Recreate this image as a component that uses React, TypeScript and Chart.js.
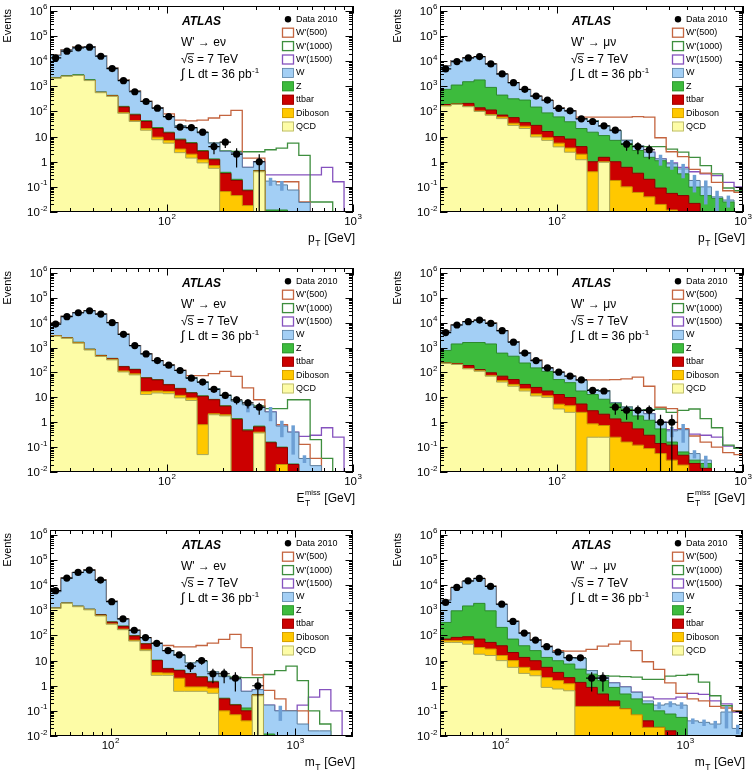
import React, { useEffect, useRef } from "react";
import { Chart, registerables } from "chart.js";

Chart.register(...registerables);

const N = null;

// ---------- bin edges ----------
const PT_EDGES = [23.5, 27.0, 31.1, 35.8, 41.1, 47.3, 54.4, 62.6, 72.0, 82.8, 95.3, 109.6, 126.1, 145.0, 166.8, 191.9, 220.7, 253.9, 292.1, 335.9, 386.4, 444.5, 511.3, 588.2, 676.6, 778.0, 895.0, 1029.5];
const MT_EDGES = [47.0, 54.0, 62.2, 71.5, 82.3, 94.6, 108.8, 125.2, 144.0, 165.7, 190.6, 219.3, 252.2, 290.0, 333.6, 383.8, 441.4, 507.8, 584.1, 671.8, 772.8, 889.0, 1022.6, 1176.3, 1353.2, 1556.0, 1790.0, 2059.0];

// ---------- e channel, pT ----------
const DATA_E_PT = [13600, 25100, 34100, 36300, 15800, 5100, 1690, 610, 250, 136, 63, 24, 23, 15, 4, 6, 2, 0, 1];
const W_E_PT = [17000, 28000, 36000, 38000, 16500, 5300, 1750, 640, 250, 140, 62, 27, 22, 14, 5.5, 2.6, 2.3, 0.6, 1.0, 0.17, 0.12, 0.075, 0.024];
const Z_E_PT = [2200, 2650, 2900, 1850, 600, 440, 160, 78, 43, 23, 15, 8, 5.8, 2.8, 1.3, 0.38, 0.2, 0.075, 0.45, 0.012, 0.012];
const TT_E_PT = [2110, 2510, 2720, 1720, 580, 420, 150, 73, 40, 21, 14, 7.4, 5.4, 2.6, 1.2, 0.34, 0.18, 0.07, 0.43];
const DB_E_PT = [2100, 2500, 2710, 1710, 570, 410, 90, 43, 21, 9.5, 7, 3.2, 2.0, 1.2, 0.7, 0.065, 0.045, 0.018, 0.42];
const QCD_E_PT = [2100, 2500, 2700, 1700, 560, 400, 85, 40, 18, 7.5, 5.5, 2.3, 1.4, 0.9, 0.55, 0, 0, 0, 0.4];
const S500_E_PT = [N, N, N, N, N, N, N, N, N, N, 80, 45, 42, 45, 55, 70, 110, 1.4, 1.4, 0.16, 0.16, 0.16, 0.025];
const S1000_E_PT = [N, N, N, N, N, N, N, N, N, N, N, N, N, N, 5.5, 2.7, 2.6, 2.5, 2.5, 3.0, 3.5, 5.5, 1.8, 0.025, 0.025];
const S1500_E_PT = [N, N, N, N, N, N, N, N, N, N, N, N, N, N, N, N, N, N, 1.0, 0.3, 0.3, 0.3, 0.3, 0.3, 0.6, 0.16];
const ERR_E_PT = [N, N, N, N, N, N, N, N, N, N, N, N, N, N, N, N, N, N, N, 0.06, 0.05];

// ---------- mu channel, pT ----------
const DATA_MU_PT = [4930, 9700, 13600, 15400, 7820, 3120, 1400, 760, 410, 284, 132, 106, 51, 40, 27, 18, 5, 4, 3];
const W_MU_PT = [6500, 10500, 13500, 15000, 7600, 3000, 1380, 740, 400, 270, 135, 105, 52, 42, 26, 17, 7, 4.2, 2.4, 1.3, 0.83, 0.52, 0.18, 0.1, 0.04, 0.03];
const Z_MU_PT = [760, 1130, 1530, 1800, 910, 450, 320, 285, 150, 88, 61, 39, 21, 15, 11, 7.1, 5.2, 2.8, 1.5, 1.1, 0.61, 0.33, 0.098, 0.045, 0.035, 0.025];
const TT_MU_PT = [190, 200, 210, 140, 115, 72, 57, 36, 28, 16, 10, 8, 4, 1.0, 1.5, 1.0, 0.6, 0.35, 0.2, 0.09, 0.055, 0.045, 0.022];
const DB_MU_PT = [170, 195, 160, 105, 76, 60, 34, 26, 12, 9, 5.5, 3.5, 2.0, 0.4, 1.0, 0.18, 0.1, 0.06, 0.04, 0.02, 0.012];
const QCD_MU_PT = [165, 190, 155, 100, 71, 52, 28, 21, 9.7, 7.1, 3.9, 2.4, 1.2, 0, 0.95];
const S500_MU_PT = [N, N, N, N, N, N, N, N, N, N, N, N, 60, 60, 60, 60, 60, 62, 60, 9, 2.5, 1.6, 0.5, 0.35, 0.15, 0.07, 0.06];
const S1000_MU_PT = [N, N, N, N, N, N, N, N, N, N, N, N, N, N, N, N, N, N, 4, 4, 3.2, 2.4, 1.5, 0.7, 0.33, 0.09, 0.07];
const S1500_MU_PT = [N, N, N, N, N, N, N, N, N, N, N, N, N, N, N, N, N, N, N, N, 0.9, 0.6, 0.4, 0.33, 0.28, 0.15, 0.1];
const ERR_MU_PT = [N, N, N, N, N, N, N, N, N, N, N, N, N, N, N, N, N, N, N, 0.6, 0.35, 0.3, 0.12, 0.08, 0.03, 0.015];

// ---------- e channel, MET ----------
const DATA_E_MET = [8840, 17400, 25100, 30200, 22200, 10000, 3420, 1200, 558, 302, 197, 120, 59, 41, 21, 12, 8, 6, 4];
const W_E_MET = [9500, 18000, 25000, 30000, 22000, 10000, 3400, 1200, 560, 300, 195, 120, 60, 40, 22, 12, 7, 5, 4, 2.6, 0.7, 0.4, 0.035, 0.018];
const Z_E_MET = [3050, 2500, 1650, 870, 490, 370, 175, 135, 62, 52, 33, 23, 15.5, 11.5, 8.3, 4.6, 1.4, 0.5, 0.7, 0.16, 0.1, 0.021];
const TT_E_MET = [3000, 2450, 1600, 850, 480, 360, 170, 130, 60, 50, 32, 22, 15, 11, 8, 4.4, 1.3, 0.45, 0.65, 0.15, 0.095, 0.02];
const DB_E_MET = [2950, 2400, 1550, 820, 460, 340, 115, 88, 17, 18, 17, 12, 9.5, 0.8, 2.2, 2.0, 0, 0, 0.4, 0, 0.02];
const QCD_E_MET = [2900, 2350, 1500, 800, 440, 320, 105, 80, 13, 15, 14, 9.5, 7.5, 0.05, 2.0, 1.8, 0, 0, 0.37];
const S500_E_MET = [N, N, N, N, N, N, N, N, N, N, N, N, 75, 75, 90, 110, 70, 24, 8, 0.8, 0.8, 0.27, 0.13, 0.035];
const S1000_E_MET = [N, N, N, N, N, N, N, N, N, N, N, N, N, N, N, N, N, 5, 4.5, 3.5, 3.5, 8, 8, 0.2, 0.035];
const S1500_E_MET = [N, N, N, N, N, N, N, N, N, N, N, N, N, N, N, N, N, N, N, N, N, N, 0.27, 0.3, 0.6, 0.25];
const ERR_E_MET = [N, N, N, N, N, N, N, N, N, N, N, N, N, N, N, N, N, 2.5, N, 1.5, 0.45, 0.35, 0.012];

// ---------- mu channel, MET ----------
const DATA_MU_MET = [4000, 8080, 10960, 12800, 9400, 4800, 1650, 600, 300, 153, 103, 71, 50, 19, 18, 4, 3, 3, 3, 1, 1];
const W_MU_MET = [4500, 8000, 11000, 12500, 9500, 4700, 1700, 620, 310, 150, 100, 70, 48, 20, 18, 6, 4, 3, 2.2, 1.0, 0.45, 0.5, 0.055, 0.03];
const Z_MU_MET = [770, 1400, 1600, 1600, 1400, 600, 450, 240, 153, 110, 52, 39, 18, 13, 8.4, 5.5, 3.4, 1.8, 1.2, 0.54, 0.16, 0.064, 0.03, 0.022];
const TT_MU_MET = [240, 230, 190, 130, 97, 71, 52, 33, 25, 18, 13, 9.8, 5.4, 2.9, 2.1, 1.36, 1.0, 0.54, 0.3, 0.14, 0.12, 0.047, 0.022, 0.014];
const DB_MU_MET = [235, 215, 145, 118, 76, 47, 33, 22, 14, 11.5, 5.3, 4.6, 2.5, 0.86, 0.74, 0.25, 0.16, 0.12, 0.087, 0.055, 0.03, 0.019];
const QCD_MU_MET = [230, 210, 140, 112, 71, 41, 28, 18, 11.4, 9.8, 3.4, 2.5, 0, 0.25, 0.25];
const S500_MU_MET = [N, N, N, N, N, N, N, N, N, N, N, N, N, 50, 50, 52, 55, 65, 28, 4, 3.5, 0.55, 0.28, 0.16, 0.1, 0.06, 0.05];
const S1000_MU_MET = [N, N, N, N, N, N, N, N, N, N, N, N, N, N, N, N, N, N, 3.2, 3.4, 2.5, 3.0, 3.4, 1.4, 0.6, 0.12, 0.09];
const S1500_MU_MET = [N, N, N, N, N, N, N, N, N, N, N, N, N, N, N, N, N, N, N, N, 0.5, 0.5, 0.33, 0.3, 0.25, 0.11, 0.09];
const ERR_MU_MET = [N, N, N, N, N, N, N, N, N, N, N, N, N, N, N, N, N, N, N, N, 0.2, 0.35, 0.02, 0.015];

// ---------- e channel, mT ----------
const DATA_E_MT = [6070, 19300, 32400, 40100, 16100, 2220, 456, 162, 83, 49, 25, 17, 6, 10, 3, 3, 2, 0, 1];
const W_E_MT = [5500, 19000, 32000, 40000, 16000, 2300, 450, 160, 82, 48, 25, 16, 8, 9, 3.5, 2.3, 1.8, 0.6, 0.7, 0.17, 0.1, 0.1, 0.03, 0.016, 0.016];
const Z_E_MT = [1250, 1980, 1480, 1120, 680, 350, 240, 100, 48, 10.5, 4.9, 4.2, 3.1, 2.3, 1.5, 0.32, 0.18, 0.13, 0.45, 0.012];
const TT_E_MT = [1220, 1930, 1450, 1100, 660, 340, 230, 95, 46, 10, 4.7, 4.0, 3.0, 2.2, 1.4, 0.3, 0.17, 0.1, 0.43];
const DB_E_MT = [1210, 1910, 1410, 1060, 610, 290, 180, 65, 28, 3.3, 3.2, 2.0, 0.9, 0.9, 0.8, 0.1, 0.07, 0.04, 0.42];
const QCD_E_MT = [1200, 1900, 1400, 1050, 600, 280, 170, 60, 25, 2.6, 2.6, 0.6, 0.6, 0.6, 0.5, 0, 0, 0, 0.4];
const S500_E_MT = [N, N, N, N, N, N, N, N, N, N, 40, 35, 35, 40, 50, 70, 110, 33, 2.7, 0.65, 0.3, 0.1, 0.1];
const S1000_E_MT = [N, N, N, N, N, N, N, N, N, N, N, N, N, N, N, 2.4, 2.2, 2.1, 2.1, 2.8, 4, 6, 1.6, 0.1, 0.03];
const S1500_E_MT = [N, N, N, N, N, N, N, N, N, N, N, N, N, N, N, N, N, N, N, N, N, N, 0.17, 0.35, 0.7, 0.1];
const ERR_E_MT = [N, N, N, N, N, N, N, N, N, N, N, N, N, N, N, N, N, N, N, N, 0.06];

// ---------- mu channel, mT ----------
const DATA_MU_MT = [2070, 8170, 15000, 18600, 8950, 1770, 363, 125, 66, 36, 22, 13, 13, 2, 2];
const W_MU_MT = [2500, 8000, 14000, 18000, 9000, 1700, 360, 125, 66, 37, 21, 13, 12, 4, 2.2, 1.3, 0.9, 0.55, 0.25, 0.17, 0.19, 0.17, 0.04, 0.035, 0.03, 0.09, 0.02];
const Z_MU_MT = [330, 960, 1500, 1900, 960, 210, 72, 39, 25, 13.4, 9.9, 7.3, 4.6, 2.9, 1.6, 0.86, 0.47, 0.3, 0.19, 0.1, 0.075, 0.055];
const TT_MU_MT = [72, 84, 89, 72, 53, 39, 21, 13.4, 9.9, 5.4, 3.4, 2.1, 1.36, 0.86, 0.47, 0.25, 0.12, 0.064, 0.04, 0.022, 0.016];
const DB_MU_MT = [62, 62, 62, 33, 29, 16, 10, 5.4, 4, 2.1, 1.6, 1.2, 0.15, 0.15, 0.15, 0.15, 0.12, 0.07, 0.022, 0.022];
const QCD_MU_MT = [53, 53, 45, 18, 16, 10, 5.4, 3.1, 2.5, 0.86, 0.74, 0.63];
const S500_MU_MT = [N, N, N, N, N, N, N, N, N, N, 25, 24, 24, 28, 38, 45, 60, 25, 9, 4.5, 1.3, 0.5, 0.3, 0.25, 0.15, 0.13, 0.1];
const S1000_MU_MT = [N, N, N, N, N, N, N, N, N, N, N, N, N, N, 2.5, 2.4, 2.3, 2.2, 1.8, 1.8, 2.4, 2.6, 2.8, 1.4, 0.4, 0.16, 0.1];
const S1500_MU_MT = [N, N, N, N, N, N, N, N, N, N, N, N, N, N, N, N, N, N, 0.35, 0.3, 0.3, 0.35, 0.5, 0.45, 0.25, 0.19, 0.09];
const ERR_MU_MT = [N, N, N, N, N, N, N, N, N, N, N, N, N, N, N, N, N, N, N, 0.05, 0.05, 0.05, 0.01, 0.01, 0.01, 0.07, 0.008];

// ---------- labels ----------
const LEGEND_LABELS = ["Data 2010", "W'(500)", "W'(1000)", "W'(1500)", "W", "Z", "ttbar", "Diboson", "QCD"];
const Y_DECADES = [-2, -1, 0, 1, 2, 3, 4, 5, 6];

// ---------- styling ----------
const FONT = '"Liberation Sans", "DejaVu Sans", Arial, sans-serif';
const TINY = 1e-7;
const Y_MIN = 0.01;
const Y_MAX = 1.58e6;
const CW = 376;
const CH = 257;
const COL_X = [[50, 353], [64, 367]];
const ROW_Y = [[6, 212], [11, 215], [16, 222]];

const C = {
  W: { fill: "#a3cff5", line: "#5a7c9c" },
  Z: { fill: "#3dbb3d", line: "#2d8a2d" },
  TT: { fill: "#cc0000", line: "#8e0000" },
  DB: { fill: "#ffc800", line: "#c89200" },
  QCD: { fill: "#fdfca6", line: "#a6a65c" },
  S500: "#c4643f",
  S1000: "#3e8e3e",
  S1500: "#8552be",
  ERR: "#6d9fd4",
};

type Arr = (number | null)[];
interface PanelDef {
  row: number; col: number; edges: number[]; xMin: number; xMax: number;
  chan: string; axis: string;
  data: number[]; w: number[]; z: number[]; tt: number[]; db: number[]; qcd: number[];
  s500: Arr; s1000: Arr; s1500: Arr; err: Arr;
}

const PANELS: PanelDef[] = [
  { row: 0, col: 0, edges: PT_EDGES, xMin: 23.5, xMax: 1000, chan: "e", axis: "pt", data: DATA_E_PT, w: W_E_PT, z: Z_E_PT, tt: TT_E_PT, db: DB_E_PT, qcd: QCD_E_PT, s500: S500_E_PT, s1000: S1000_E_PT, s1500: S1500_E_PT, err: ERR_E_PT },
  { row: 0, col: 1, edges: PT_EDGES, xMin: 23.5, xMax: 1000, chan: "mu", axis: "pt", data: DATA_MU_PT, w: W_MU_PT, z: Z_MU_PT, tt: TT_MU_PT, db: DB_MU_PT, qcd: QCD_MU_PT, s500: S500_MU_PT, s1000: S1000_MU_PT, s1500: S1500_MU_PT, err: ERR_MU_PT },
  { row: 1, col: 0, edges: PT_EDGES, xMin: 23.5, xMax: 1000, chan: "e", axis: "met", data: DATA_E_MET, w: W_E_MET, z: Z_E_MET, tt: TT_E_MET, db: DB_E_MET, qcd: QCD_E_MET, s500: S500_E_MET, s1000: S1000_E_MET, s1500: S1500_E_MET, err: ERR_E_MET },
  { row: 1, col: 1, edges: PT_EDGES, xMin: 23.5, xMax: 1000, chan: "mu", axis: "met", data: DATA_MU_MET, w: W_MU_MET, z: Z_MU_MET, tt: TT_MU_MET, db: DB_MU_MET, qcd: QCD_MU_MET, s500: S500_MU_MET, s1000: S1000_MU_MET, s1500: S1500_MU_MET, err: ERR_MU_MET },
  { row: 2, col: 0, edges: MT_EDGES, xMin: 47, xMax: 2050, chan: "e", axis: "mt", data: DATA_E_MT, w: W_E_MT, z: Z_E_MT, tt: TT_E_MT, db: DB_E_MT, qcd: QCD_E_MT, s500: S500_E_MT, s1000: S1000_E_MT, s1500: S1500_E_MT, err: ERR_E_MT },
  { row: 2, col: 1, edges: MT_EDGES, xMin: 47, xMax: 2050, chan: "mu", axis: "mt", data: DATA_MU_MT, w: W_MU_MT, z: Z_MU_MT, tt: TT_MU_MT, db: DB_MU_MT, qcd: QCD_MU_MT, s500: S500_MU_MT, s1000: S1000_MU_MT, s1500: S1500_MU_MT, err: ERR_MU_MT },
];

function stepPoints(edges: number[], vals: number[]) {
  const n = edges.length - 1;
  const v = (i: number) => {
    const a = vals[i];
    return a != null && a > 0 ? a : TINY;
  };
  const pts = [{ x: edges[0], y: TINY }];
  for (let i = 0; i < n; i++) pts.push({ x: edges[i], y: v(i) });
  pts.push({ x: edges[n], y: v(n - 1) });
  pts.push({ x: edges[n], y: TINY });
  return pts;
}

function sigVals(sig: Arr, total: number[], n: number) {
  const out: number[] = [];
  for (let i = 0; i < n; i++) {
    if (i < sig.length) {
      const s = sig[i];
      out.push(s == null ? total[i] ?? 0 : s);
    } else out.push(0);
  }
  return out;
}

const f = (size: number, style = "") => `${style} ${size}px ${FONT}`.trim();

function powLabel(ctx: CanvasRenderingContext2D, exp: number, x: number, y: number, align: string) {
  const base = exp === 0 ? "1" : "10";
  const sup = exp === 0 || exp === 1 ? "" : String(exp);
  ctx.font = f(11.5);
  const bw = ctx.measureText(base).width;
  ctx.font = f(8);
  const sw = sup ? ctx.measureText(sup).width + 0.5 : 0;
  const total = bw + sw;
  const x0 = align === "right" ? x - total : x - total / 2;
  ctx.textAlign = "left";
  ctx.textBaseline = "alphabetic";
  ctx.font = f(11.5);
  ctx.fillText(base, x0, y + 4);
  if (sup) {
    ctx.font = f(8);
    ctx.fillText(sup, x0 + bw + 0.5, y - 1.5);
  }
}

function drawXTitle(ctx: CanvasRenderingContext2D, kind: string, R: number, B: number) {
  const big = 12;
  const small = 8.5;
  const yb = B + 30;
  ctx.fillStyle = "#000";
  ctx.textAlign = "left";
  ctx.textBaseline = "alphabetic";
  const tail = " [GeV]";
  ctx.font = f(big);
  const wTail = ctx.measureText(tail).width;
  const main = kind === "pt" ? "p" : kind === "mt" ? "m" : "E";
  const wMain = ctx.measureText(main).width;
  ctx.font = f(small);
  const wT = ctx.measureText("T").width;
  let wMiss = 0;
  if (kind === "met") {
    ctx.font = f(7.5);
    wMiss = ctx.measureText("miss").width;
  }
  const wScript = Math.max(wT, wMiss) + 1;
  const x0 = R + 2 - (wMain + wScript + wTail);
  ctx.font = f(big);
  ctx.fillText(main, x0, yb);
  ctx.font = f(small);
  ctx.fillText("T", x0 + wMain + 0.5, yb + 3.5);
  if (kind === "met") {
    ctx.font = f(7.5);
    ctx.fillText("miss", x0 + wMain + 0.5, yb - 7.5);
  }
  ctx.font = f(big);
  ctx.fillText(tail, x0 + wMain + wScript, yb);
}

function makePlugin(p: PanelDef) {
  return {
    id: "atlasDeco",
    beforeDatasetDraw(chart: any, args: any) {
      if (args.index !== 0) return;
      const { ctx, chartArea: ca, scales } = chart;
      const xs = scales.x;
      const ys = scales.y;
      ctx.save();
      ctx.beginPath();
      ctx.rect(ca.left, ca.top, ca.right - ca.left, ca.bottom - ca.top);
      ctx.clip();
      ctx.strokeStyle = "#000";
      ctx.lineWidth = 1.2;
      p.data.forEach((n, i) => {
        if (!(n > 0)) return;
        const x0 = xs.getPixelForValue(p.edges[i]);
        const x1 = xs.getPixelForValue(p.edges[i + 1]);
        const xc = xs.getPixelForValue(Math.sqrt(p.edges[i] * p.edges[i + 1]));
        const e = Math.sqrt(n);
        const yc = ys.getPixelForValue(n);
        const yHi = ys.getPixelForValue(n + e);
        const yLo = n - e > 0 ? ys.getPixelForValue(n - e) : ca.bottom + 5;
        ctx.beginPath();
        ctx.moveTo(x0, yc);
        ctx.lineTo(x1, yc);
        ctx.moveTo(xc, yHi);
        ctx.lineTo(xc, yLo);
        ctx.stroke();
      });
      ctx.restore();
    },
    afterDatasetDraw(chart: any, args: any) {
      if (args.index !== 1) return;
      const { ctx, chartArea: ca, scales } = chart;
      const xs = scales.x;
      const ys = scales.y;
      ctx.save();
      ctx.beginPath();
      ctx.rect(ca.left, ca.top, ca.right - ca.left, ca.bottom - ca.top);
      ctx.clip();
      ctx.strokeStyle = C.ERR;
      ctx.lineWidth = 3.5;
      p.err.forEach((e, i) => {
        if (e == null) return;
        const tot = p.w[i] ?? 0;
        if (!(tot > 0)) return;
        const xc = xs.getPixelForValue(Math.sqrt(p.edges[i] * p.edges[i + 1]));
        const hi = ys.getPixelForValue(tot + e);
        const lo = tot - e > 0 ? ys.getPixelForValue(tot - e) : ca.bottom;
        ctx.beginPath();
        ctx.moveTo(xc, hi);
        ctx.lineTo(xc, lo);
        ctx.stroke();
      });
      ctx.restore();
    },
    afterDraw(chart: any) {
      const { ctx, chartArea: ca, scales } = chart;
      const xs = scales.x;
      const ys = scales.y;
      const L = ca.left, R = ca.right, T = ca.top, B = ca.bottom;
      ctx.save();
      // frame
      ctx.strokeStyle = "#000";
      ctx.lineWidth = 1;
      ctx.strokeRect(L + 0.5, T + 0.5, R - L - 1, B - T - 1);
      // ticks
      ctx.beginPath();
      for (const d of Y_DECADES) {
        for (let m = 1; m <= 9; m++) {
          const v = m * Math.pow(10, d);
          if (v < Y_MIN * 0.999 || v > Y_MAX) continue;
          const py = Math.round(ys.getPixelForValue(v)) + 0.5;
          const len = m === 1 ? 7.5 : 4;
          ctx.moveTo(L, py); ctx.lineTo(L + len, py);
          ctx.moveTo(R, py); ctx.lineTo(R - len, py);
        }
      }
      const dLo = Math.floor(Math.log10(p.xMin));
      const dHi = Math.ceil(Math.log10(p.xMax));
      for (let d = dLo; d <= dHi; d++) {
        for (let m = 1; m <= 9; m++) {
          const v = m * Math.pow(10, d);
          if (v < p.xMin || v > p.xMax * 1.0001) continue;
          const px = Math.round(xs.getPixelForValue(v)) + 0.5;
          const len = m === 1 ? 7.5 : 4;
          ctx.moveTo(px, B); ctx.lineTo(px, B - len);
          ctx.moveTo(px, T); ctx.lineTo(px, T + len);
        }
      }
      ctx.stroke();
      // tick labels
      ctx.fillStyle = "#000";
      for (const d of Y_DECADES) {
        powLabel(ctx, d, L - 2.5, ys.getPixelForValue(Math.pow(10, d)), "right");
      }
      for (let d = dLo; d <= dHi; d++) {
        const v = Math.pow(10, d);
        if (v < p.xMin || v > p.xMax * 1.0001) continue;
        powLabel(ctx, d, xs.getPixelForValue(v), B + 8.5, "center");
      }
      // axis titles
      ctx.save();
      ctx.translate(L - 42.5, T + 3);
      ctx.rotate(-Math.PI / 2);
      ctx.font = f(11);
      ctx.textAlign = "right";
      ctx.textBaseline = "middle";
      ctx.fillText("Events", 0, 0);
      ctx.restore();
      drawXTitle(ctx, p.axis, R, B);
      // text block
      const tx = L + 131;
      ctx.textAlign = "left";
      ctx.textBaseline = "middle";
      ctx.font = f(12, "italic bold");
      ctx.fillText("ATLAS", tx + 1, T + 16);
      ctx.font = f(12);
      ctx.fillText(p.chan === "e" ? "W' \u2192 e\u03BD" : "W' \u2192 \u03BC\u03BD", tx, T + 37);
      // sqrt(s)
      ctx.textBaseline = "alphabetic";
      const yb = T + 53 + 4.3;
      ctx.fillText("\u221A", tx, yb);
      const wr = ctx.measureText("\u221A").width;
      ctx.fillText("s", tx + wr, yb);
      const ws = ctx.measureText("s").width;
      ctx.lineWidth = 0.9;
      ctx.beginPath();
      ctx.moveTo(tx + wr - 0.8, yb - 9.6);
      ctx.lineTo(tx + wr + ws + 0.5, yb - 9.6);
      ctx.stroke();
      ctx.fillText(" = 7 TeV", tx + wr + ws, yb);
      // integral
      const yb2 = T + 68 + 4.3;
      ctx.font = f(13);
      ctx.fillText("\u222B", tx, yb2);
      const wi = ctx.measureText("\u222B").width;
      ctx.font = f(12);
      const lum = " L dt = 36 pb";
      ctx.fillText(lum, tx + wi, yb2);
      const wl = ctx.measureText(lum).width;
      ctx.font = f(8);
      ctx.fillText("-1", tx + wi + wl + 0.5, yb2 - 5.5);
      // legend
      const lx = R - 71;
      const ltx = R - 57;
      const kinds = [
        { k: "dot" },
        { k: "line", c: C.S500 },
        { k: "line", c: C.S1000 },
        { k: "line", c: C.S1500 },
        { k: "box", c: C.W },
        { k: "box", c: C.Z },
        { k: "box", c: C.TT },
        { k: "box", c: C.DB },
        { k: "box", c: C.QCD },
      ];
      LEGEND_LABELS.forEach((lab, i) => {
        const cy = T + 13.3 + 13.4 * i;
        const e: any = kinds[i];
        if (e.k === "dot") {
          ctx.beginPath();
          ctx.arc(lx + 6, cy, 3.2, 0, Math.PI * 2);
          ctx.fillStyle = "#000";
          ctx.fill();
        } else if (e.k === "line") {
          ctx.fillStyle = "#fff";
          ctx.fillRect(lx, cy - 5, 12, 10);
          ctx.strokeStyle = e.c;
          ctx.lineWidth = 1.3;
          ctx.strokeRect(lx + 0.5, cy - 4.5, 11, 9);
        } else {
          ctx.fillStyle = e.c.fill;
          ctx.fillRect(lx, cy - 5, 12, 10);
          ctx.strokeStyle = e.c.line;
          ctx.lineWidth = 0.7;
          ctx.strokeRect(lx + 0.5, cy - 4.5, 11, 9);
        }
        ctx.fillStyle = "#000";
        ctx.font = f(9);
        ctx.textAlign = "left";
        ctx.textBaseline = "middle";
        ctx.fillText(lab, ltx, cy);
      });
      ctx.restore();
    },
  };
}

function buildConfig(p: PanelDef): any {
  const nb = p.edges.length - 1;
  const hist = (vals: number[], fill: string | null, line: string, width: number) => ({
    data: stepPoints(p.edges, vals),
    stepped: "before",
    fill: fill ? "start" : false,
    backgroundColor: fill ?? "rgba(0,0,0,0)",
    borderColor: line,
    borderWidth: width,
    pointRadius: 0,
    pointHoverRadius: 0,
    tension: 0,
    clip: 0,
  });
  const dataPts = p.data
    .map((v, i) => ({ x: Math.sqrt(p.edges[i] * p.edges[i + 1]), y: v }))
    .filter((d) => d.y > 0);
  const datasets = [
    {
      data: dataPts,
      showLine: false,
      pointRadius: 3.6,
      pointHoverRadius: 0,
      pointBackgroundColor: "#000",
      pointBorderColor: "#000",
      pointBorderWidth: 0,
      clip: 4,
    },
    hist(p.qcd, C.QCD.fill, C.QCD.line, 1),
    hist(p.db, C.DB.fill, C.DB.line, 1),
    hist(p.tt, C.TT.fill, C.TT.line, 1),
    hist(p.z, C.Z.fill, C.Z.line, 1),
    hist(p.w, C.W.fill, C.W.line, 1),
    hist(sigVals(p.s500, p.w, nb), null, C.S500, 1.3),
    hist(sigVals(p.s1000, p.w, nb), null, C.S1000, 1.3),
    hist(sigVals(p.s1500, p.w, nb), null, C.S1500, 1.3),
  ];
  const [fx0, fx1] = COL_X[p.col];
  const [fy0, fy1] = ROW_Y[p.row];
  return {
    type: "line",
    data: { datasets },
    options: {
      responsive: false,
      maintainAspectRatio: false,
      animation: false,
      devicePixelRatio: 1,
      events: [],
      layout: { padding: { left: fx0, right: CW - fx1, top: fy0, bottom: CH - fy1 } },
      plugins: { legend: { display: false }, tooltip: { enabled: false } },
      scales: {
        x: { type: "logarithmic", min: p.xMin, max: p.xMax, display: false },
        y: { type: "logarithmic", min: Y_MIN, max: Y_MAX, display: false },
      },
    },
    plugins: [makePlugin(p)],
  };
}

function Panel({ p }: { p: PanelDef }) {
  const ref = useRef<HTMLCanvasElement>(null);
  useEffect(() => {
    if (!ref.current) return;
    const chart = new Chart(ref.current, buildConfig(p));
    return () => chart.destroy();
  }, [p]);
  return (
    <canvas
      ref={ref}
      width={CW}
      height={CH}
      style={{ position: "absolute", left: p.col * CW, top: p.row * CH, width: CW, height: CH }}
    />
  );
}

export default function App() {
  return (
    <div style={{ position: "absolute", left: 0, top: 0, width: 752, height: 771, background: "#fff", overflow: "hidden" }}>
      {PANELS.map((p, i) => (
        <Panel key={i} p={p} />
      ))}
    </div>
  );
}
